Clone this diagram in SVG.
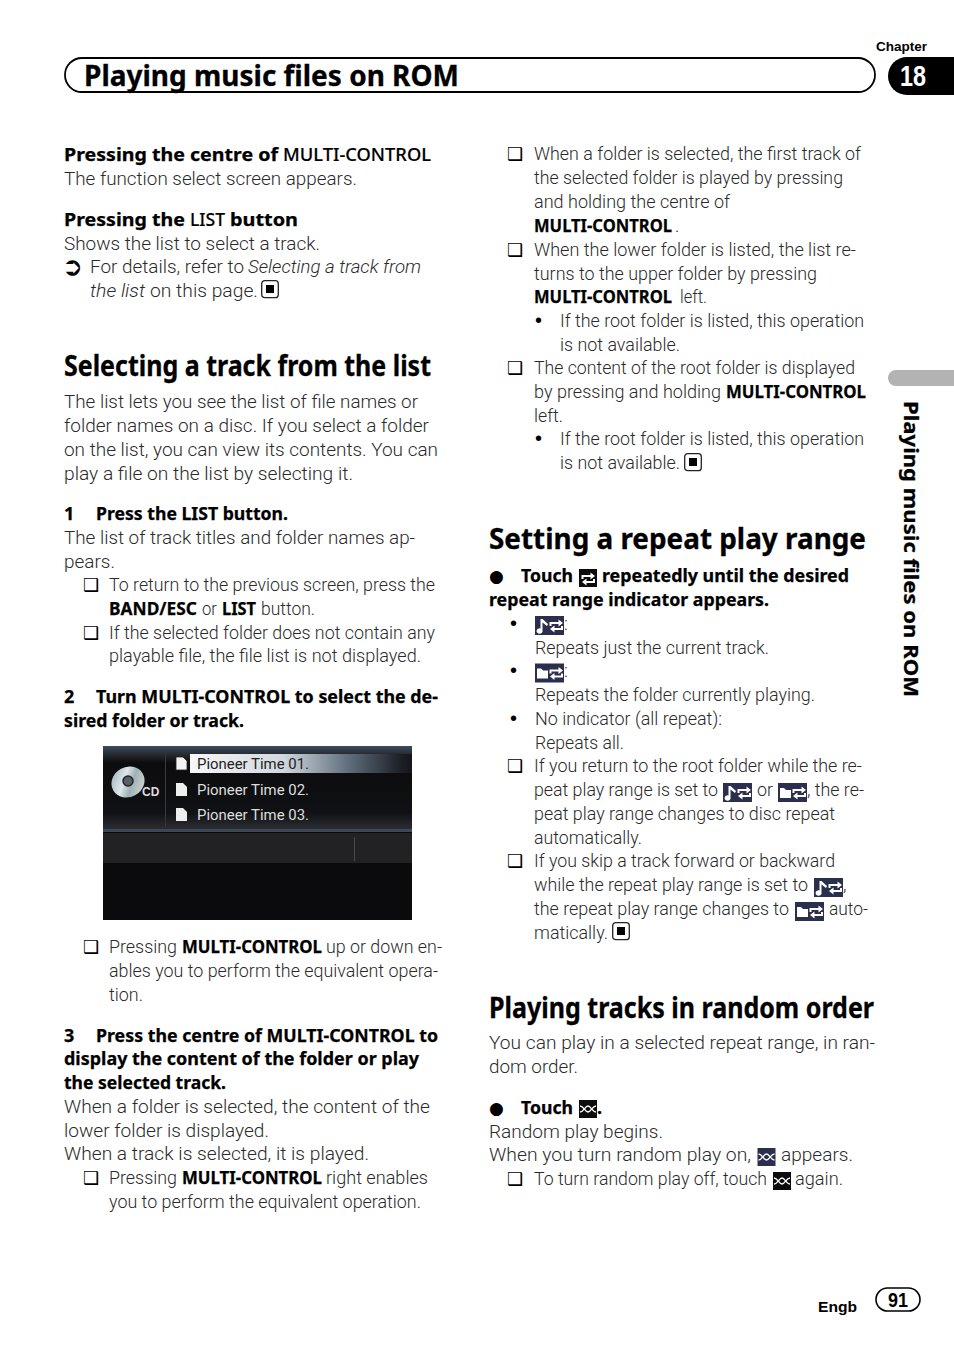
<svg xmlns="http://www.w3.org/2000/svg" width="954" height="1352" viewBox="0 0 954 1352">
<style>
text{font-family:Roboto,"Noto Sans","Liberation Sans",sans-serif;font-size:18px;font-weight:300;fill:#2a2a2a;white-space:pre}
.b{font-family:"Noto Sans","Open Sans",sans-serif;font-weight:700;fill:#000;stroke:#000;stroke-width:.25px}
.m{font-family:"Noto Sans","Open Sans",sans-serif;font-weight:500;fill:#000;stroke:#000;stroke-width:.15px}
.i{font-style:italic}
.h{font-family:"Noto Sans","Open Sans",sans-serif;font-weight:700;font-size:28px;fill:#000;stroke:#000;stroke-width:.3px}
.g{font-family:"DejaVu Sans",sans-serif;font-size:18px;font-weight:400;fill:#000}
.d{font-family:"Liberation Sans",sans-serif;font-size:20px;font-weight:400;fill:#000}
.a{font-family:"Liberation Sans",sans-serif;font-weight:700;fill:#000}
.p{font-family:Roboto,"Liberation Sans",sans-serif;font-size:14px;font-weight:400;fill:#ddd}
</style>
<defs>
<linearGradient id="hl" x1="0" x2="1" y1="0" y2="0"><stop offset="0" stop-color="#f6f7f8"/><stop offset=".42" stop-color="#d2d8de"/><stop offset=".72" stop-color="#5d6b7a"/><stop offset=".95" stop-color="#1c2026"/><stop offset="1" stop-color="#14161a"/></linearGradient>
<linearGradient id="top" x1="0" x2="0" y1="0" y2="1"><stop offset="0" stop-color="#3e4c60"/><stop offset=".5" stop-color="#26292e"/><stop offset="1" stop-color="#0c0c0e"/></linearGradient>
<linearGradient id="low" x1="0" x2="0" y1="0" y2="1"><stop offset="0" stop-color="#0c0c0e"/><stop offset=".75" stop-color="#101114"/><stop offset="1" stop-color="#2a2d33"/></linearGradient>
<linearGradient id="cd" x1="0" x2="1" y1="0" y2="1"><stop offset="0" stop-color="#8fa9b8"/><stop offset=".4" stop-color="#dfe6e8"/><stop offset=".6" stop-color="#9fb0b4"/><stop offset="1" stop-color="#e6e6da"/></linearGradient>
<symbol id="stop" viewBox="0 0 18 19" overflow="visible"><rect x=".7" y=".7" width="16.6" height="17" rx="3" fill="#fff" stroke="#222" stroke-width="1.3"/><rect x="5" y="5" width="8" height="8" fill="#000"/></symbol>
<g id="arrows" fill="none" stroke="#fff" stroke-width="2"><path d="M1.500 7 V4 H10"/><path d="M9.500 0.500 L14 4 L9.500 7.500Z" fill="#fff" stroke="none"/><path d="M13 7 V10 H5"/><path d="M5.500 6.500 L1 10 L5.500 13.500Z" fill="#fff" stroke="none"/></g>
<g id="rn" fill="none" stroke="#fff" stroke-width="1.300"><path d="M1 5 C5 5 6 11 9 11 C12 11 13 5 17 5"/><path d="M1 11 C5 11 6 5 9 5 C12 5 13 11 17 11"/></g>
<symbol id="rep" viewBox="0 0 18 18"><rect width="18" height="18" fill="#0c0c0c"/><use href="#arrows" transform="translate(2 3) scale(1)"/></symbol>
<symbol id="note" viewBox="0 0 29 19"><rect width="29" height="19" fill="#2b2e4d"/><path d="M5.500 3 H7.500 L13 8 L12 10 L7.500 6.500 V14.500 A3 2.700 0 1 1 5.500 12.500Z" fill="#fff"/><use href="#arrows" transform="translate(14 3)"/></symbol>
<symbol id="fold" viewBox="0 0 29 19"><rect width="29" height="19" fill="#2b2e4d"/><path d="M2 5 H6 L8 7 H13 V15 H2Z" fill="#fff"/><use href="#arrows" transform="translate(14 3)"/></symbol>
<symbol id="rk" viewBox="0 0 18 18"><rect width="18" height="18" fill="#0c0c0c"/><use href="#rn" transform="translate(0 1)"/></symbol>
<symbol id="rb" viewBox="0 0 18 18"><rect width="18" height="18" fill="#2b2e4d"/><use href="#rn" transform="translate(0 1)"/></symbol>
<path id="file" d="M0 0 H7 L11 4 V13 H0Z"/>
</defs>

<g id="header">
<rect x="65" y="58" width="810" height="34" rx="17" fill="#fff" stroke="#000" stroke-width="1.800"/>
<text class="h" x="84" y="86" lengthAdjust="spacingAndGlyphs" textLength="375">Playing music files on ROM</text>
<text class="a" x="876" y="51" style="font-size:13px" lengthAdjust="spacingAndGlyphs" textLength="51">Chapter</text>
<path d="M954 57 H907 A19 19 0 0 0 907 95 H954Z" fill="#000"/>
<text class="a" x="900" y="86" style="font-size:29px;fill:#fff" lengthAdjust="spacingAndGlyphs" textLength="26">18</text>
</g>

<g id="column-left">
<text class="b" x="64" y="161" lengthAdjust="spacingAndGlyphs" textLength="214">Pressing the centre of</text><text class="m" x="283" y="161" lengthAdjust="spacingAndGlyphs" textLength="148">MULTI-CONTROL</text>
<text x="64" y="185" lengthAdjust="spacingAndGlyphs" textLength="293">The function select screen appears.</text>
<text class="b" x="64" y="226" lengthAdjust="spacingAndGlyphs" textLength="121">Pressing the</text><text class="m" x="190" y="226" lengthAdjust="spacingAndGlyphs" textLength="35">LIST</text><text class="b" x="230" y="226" lengthAdjust="spacingAndGlyphs" textLength="68">button</text>
<text x="64" y="250" lengthAdjust="spacingAndGlyphs" textLength="256">Shows the list to select a track.</text>
<text class="g" x="62" y="275" style="font-size:25px">➲</text>
<text x="90" y="273" lengthAdjust="spacingAndGlyphs" textLength="154">For details, refer to</text><text class="i" x="248" y="273" lengthAdjust="spacingAndGlyphs" textLength="173">Selecting a track from</text>
<text class="i" x="90" y="297" lengthAdjust="spacingAndGlyphs" textLength="55">the list</text><text x="150" y="297" lengthAdjust="spacingAndGlyphs" textLength="108">on this page.</text>
<use href="#stop" x="261" y="280" width="18" height="19"/>

<text class="h" x="64" y="376" lengthAdjust="spacingAndGlyphs" textLength="367">Selecting a track from the list</text>
<text x="64" y="408" lengthAdjust="spacingAndGlyphs" textLength="354">The list lets you see the list of file names or</text>
<text x="64" y="432" lengthAdjust="spacingAndGlyphs" textLength="365">folder names on a disc. If you select a folder</text>
<text x="64" y="456" lengthAdjust="spacingAndGlyphs" textLength="374">on the list, you can view its contents. You can</text>
<text x="64" y="480" lengthAdjust="spacingAndGlyphs" textLength="289">play a file on the list by selecting it.</text>

<text class="b" x="64" y="520">1</text><text class="b" x="96" y="520" lengthAdjust="spacingAndGlyphs" textLength="192">Press the LIST button.</text>
<text x="64" y="544" lengthAdjust="spacingAndGlyphs" textLength="351">The list of track titles and folder names ap-</text>
<text x="64" y="568" lengthAdjust="spacingAndGlyphs" textLength="51">pears.</text>
<text class="g" x="83" y="591">❑</text><text x="109" y="591" lengthAdjust="spacingAndGlyphs" textLength="326">To return to the previous screen, press the</text>
<text class="b" x="109" y="615" lengthAdjust="spacingAndGlyphs" textLength="88">BAND/ESC</text><text x="202" y="615" lengthAdjust="spacingAndGlyphs" textLength="15">or</text><text class="b" x="222" y="615" lengthAdjust="spacingAndGlyphs" textLength="34">LIST</text><text x="261" y="615" lengthAdjust="spacingAndGlyphs" textLength="54">button.</text>
<text class="g" x="83" y="639">❑</text><text x="109" y="639" lengthAdjust="spacingAndGlyphs" textLength="326">If the selected folder does not contain any</text>
<text x="109" y="662" lengthAdjust="spacingAndGlyphs" textLength="312">playable file, the file list is not displayed.</text>

<text class="b" x="64" y="703">2</text><text class="b" x="96" y="703" lengthAdjust="spacingAndGlyphs" textLength="342">Turn MULTI-CONTROL to select the de-</text>
<text class="b" x="64" y="727" lengthAdjust="spacingAndGlyphs" textLength="180">sired folder or track.</text>

<text class="g" x="83" y="953">❑</text><text x="109" y="953" lengthAdjust="spacingAndGlyphs" textLength="68">Pressing</text><text class="b" x="182" y="953" lengthAdjust="spacingAndGlyphs" textLength="140">MULTI-CONTROL</text><text x="326" y="953" lengthAdjust="spacingAndGlyphs" textLength="116">up or down en-</text>
<text x="109" y="977" lengthAdjust="spacingAndGlyphs" textLength="329">ables you to perform the equivalent opera-</text>
<text x="109" y="1001" lengthAdjust="spacingAndGlyphs" textLength="34">tion.</text>

<text class="b" x="64" y="1042">3</text><text class="b" x="96" y="1042" lengthAdjust="spacingAndGlyphs" textLength="342">Press the centre of MULTI-CONTROL to</text>
<text class="b" x="64" y="1065" lengthAdjust="spacingAndGlyphs" textLength="355">display the content of the folder or play</text>
<text class="b" x="64" y="1089" lengthAdjust="spacingAndGlyphs" textLength="162">the selected track.</text>
<text x="64" y="1113" lengthAdjust="spacingAndGlyphs" textLength="366">When a folder is selected, the content of the</text>
<text x="64" y="1137" lengthAdjust="spacingAndGlyphs" textLength="205">lower folder is displayed.</text>
<text x="64" y="1160" lengthAdjust="spacingAndGlyphs" textLength="305">When a track is selected, it is played.</text>
<text class="g" x="83" y="1184">❑</text><text x="109" y="1184" lengthAdjust="spacingAndGlyphs" textLength="68">Pressing</text><text class="b" x="182" y="1184" lengthAdjust="spacingAndGlyphs" textLength="140">MULTI-CONTROL</text><text x="326" y="1184" lengthAdjust="spacingAndGlyphs" textLength="102">right enables</text>
<text x="109" y="1208" lengthAdjust="spacingAndGlyphs" textLength="312">you to perform the equivalent operation.</text>
</g>

<g id="screenshot">
<rect x="103" y="746" width="309" height="174" fill="#0b0b0d"/>
<rect x="103" y="746" width="309" height="17" fill="url(#top)"/>
<rect x="103" y="763" width="309" height="66" fill="url(#low)"/>
<rect x="190" y="754" width="222" height="19" fill="url(#hl)"/>
<rect x="103" y="829" width="309" height="3" fill="#3f4656"/>
<rect x="103" y="833" width="309" height="30" fill="#222224"/>
<rect x="165" y="753" width="1" height="74" fill="#333a44"/>
<rect x="354" y="837" width="1" height="24" fill="#4a4a4a"/>
<ellipse cx="128" cy="782" rx="17" ry="15" fill="url(#cd)" transform="rotate(-30 128 782)"/>
<circle cx="128" cy="781" r="5" fill="#556068" stroke="#222" stroke-width="1.500"/>
<text class="a" x="142" y="796" style="font-size:12px;fill:#ddd">CD</text>
<use href="#file" x="176" y="757" fill="#f2f2f2" stroke="#222" stroke-width=".8"/>
<use href="#file" x="176" y="783" fill="#eee"/>
<use href="#file" x="176" y="808" fill="#eee"/>
<text class="p" x="197" y="769" style="fill:#222" lengthAdjust="spacingAndGlyphs" textLength="112">Pioneer Time 01.</text>
<text class="p" x="197" y="795" lengthAdjust="spacingAndGlyphs" textLength="112">Pioneer Time 02.</text>
<text class="p" x="197" y="820" lengthAdjust="spacingAndGlyphs" textLength="112">Pioneer Time 03.</text>
</g>

<g id="column-right">
<text class="g" x="507" y="160">❑</text><text x="534" y="160" lengthAdjust="spacingAndGlyphs" textLength="327">When a folder is selected, the first track of</text>
<text x="534" y="184" lengthAdjust="spacingAndGlyphs" textLength="309">the selected folder is played by pressing</text>
<text x="534" y="208" lengthAdjust="spacingAndGlyphs" textLength="196">and holding the centre of</text>
<text class="b" x="534" y="232" lengthAdjust="spacingAndGlyphs" textLength="138">MULTI-CONTROL</text><text x="675" y="232">.</text>
<text class="g" x="507" y="256">❑</text><text x="534" y="256" lengthAdjust="spacingAndGlyphs" textLength="322">When the lower folder is listed, the list re-</text>
<text x="534" y="280" lengthAdjust="spacingAndGlyphs" textLength="283">turns to the upper folder by pressing</text>
<text class="b" x="534" y="303" lengthAdjust="spacingAndGlyphs" textLength="138">MULTI-CONTROL</text><text x="680" y="303" lengthAdjust="spacingAndGlyphs" textLength="27">left.</text>
<text class="d" x="535" y="327">•</text><text x="560" y="327" lengthAdjust="spacingAndGlyphs" textLength="304">If the root folder is listed, this operation</text>
<text x="560" y="351" lengthAdjust="spacingAndGlyphs" textLength="120">is not available.</text>
<text class="g" x="507" y="374">❑</text><text x="534" y="374" lengthAdjust="spacingAndGlyphs" textLength="321">The content of the root folder is displayed</text>
<text x="534" y="398" lengthAdjust="spacingAndGlyphs" textLength="187">by pressing and holding</text><text class="b" x="726" y="398" lengthAdjust="spacingAndGlyphs" textLength="140">MULTI-CONTROL</text>
<text x="534" y="422" lengthAdjust="spacingAndGlyphs" textLength="29">left.</text>
<text class="d" x="535" y="445">•</text><text x="560" y="445" lengthAdjust="spacingAndGlyphs" textLength="304">If the root folder is listed, this operation</text>
<text x="560" y="469" lengthAdjust="spacingAndGlyphs" textLength="120">is not available.</text>
<use href="#stop" x="684" y="453" width="18" height="19"/>

<text class="h" x="489" y="549" lengthAdjust="spacingAndGlyphs" textLength="377">Setting a repeat play range</text>
<text class="g" x="489" y="582" style="font-size:17px">●</text><text class="b" x="521" y="582" lengthAdjust="spacingAndGlyphs" textLength="52">Touch</text>
<use href="#rep" x="579" y="569" width="18" height="18"/>
<text class="b" x="602" y="582" lengthAdjust="spacingAndGlyphs" textLength="247">repeatedly until the desired</text>
<text class="b" x="489" y="606" lengthAdjust="spacingAndGlyphs" textLength="280">repeat range indicator appears.</text>
<text class="d" x="510" y="630">•</text>
<use href="#note" x="535" y="616" width="29" height="19"/><text x="564" y="630">:</text>
<text x="535" y="654" lengthAdjust="spacingAndGlyphs" textLength="234">Repeats just the current track.</text>
<text class="d" x="510" y="677">•</text>
<use href="#fold" x="535" y="663" width="29" height="20"/><text x="564" y="677">:</text>
<text x="535" y="701" lengthAdjust="spacingAndGlyphs" textLength="280">Repeats the folder currently playing.</text>
<text class="d" x="510" y="725">•</text><text x="535" y="725" lengthAdjust="spacingAndGlyphs" textLength="187">No indicator (all repeat):</text>
<text x="535" y="749" lengthAdjust="spacingAndGlyphs" textLength="89">Repeats all.</text>
<text class="g" x="507" y="772">❑</text><text x="534" y="772" lengthAdjust="spacingAndGlyphs" textLength="328">If you return to the root folder while the re-</text>
<text x="534" y="796" lengthAdjust="spacingAndGlyphs" textLength="184">peat play range is set to</text>
<use href="#note" x="723" y="783" width="29" height="19"/><text x="757" y="796" lengthAdjust="spacingAndGlyphs" textLength="16">or</text>
<use href="#fold" x="778" y="783" width="29" height="19"/><text x="807" y="796" lengthAdjust="spacingAndGlyphs" textLength="57">, the re-</text>
<text x="534" y="820" lengthAdjust="spacingAndGlyphs" textLength="301">peat play range changes to disc repeat</text>
<text x="534" y="844" lengthAdjust="spacingAndGlyphs" textLength="108">automatically.</text>
<text class="g" x="507" y="867">❑</text><text x="534" y="867" lengthAdjust="spacingAndGlyphs" textLength="301">If you skip a track forward or backward</text>
<text x="534" y="891" lengthAdjust="spacingAndGlyphs" textLength="274">while the repeat play range is set to</text>
<use href="#note" x="814" y="878" width="29" height="19"/><text x="843" y="891">,</text>
<text x="534" y="915" lengthAdjust="spacingAndGlyphs" textLength="255">the repeat play range changes to</text>
<use href="#fold" x="795" y="902" width="29" height="19"/><text x="829" y="915" lengthAdjust="spacingAndGlyphs" textLength="39">auto-</text>
<text x="534" y="939" lengthAdjust="spacingAndGlyphs" textLength="74">matically.</text>
<use href="#stop" x="612" y="922" width="18" height="19"/>

<text class="h" x="489" y="1018" lengthAdjust="spacingAndGlyphs" textLength="385">Playing tracks in random order</text>
<text x="489" y="1049" lengthAdjust="spacingAndGlyphs" textLength="386">You can play in a selected repeat range, in ran-</text>
<text x="489" y="1073" lengthAdjust="spacingAndGlyphs" textLength="89">dom order.</text>
<text class="g" x="489" y="1114" style="font-size:17px">●</text><text class="b" x="521" y="1114" lengthAdjust="spacingAndGlyphs" textLength="52">Touch</text>
<use href="#rk" x="579" y="1100" width="18" height="18"/><text class="b" x="597" y="1114">.</text>
<text x="489" y="1138" lengthAdjust="spacingAndGlyphs" textLength="174">Random play begins.</text>
<text x="489" y="1161" lengthAdjust="spacingAndGlyphs" textLength="262">When you turn random play on,</text>
<use href="#rb" x="757" y="1148" width="19" height="18"/><text x="781" y="1161" lengthAdjust="spacingAndGlyphs" textLength="72">appears.</text>
<text class="g" x="507" y="1185">❑</text><text x="534" y="1185" lengthAdjust="spacingAndGlyphs" textLength="233">To turn random play off, touch</text>
<use href="#rk" x="773" y="1172" width="18" height="18"/><text x="795" y="1185" lengthAdjust="spacingAndGlyphs" textLength="48">again.</text>
</g>

<g id="sidebar">
<path d="M954 370 H896 A8 8 0 0 0 896 386 H954Z" fill="#b3b3b3"/>
<text class="b" transform="translate(904 401) rotate(90)" style="font-size:19px" lengthAdjust="spacingAndGlyphs" textLength="296">Playing music files on ROM</text>
</g>

<g id="footer">
<text class="a" x="818" y="1312" style="font-size:15px" lengthAdjust="spacingAndGlyphs" textLength="39">Engb</text>
<rect x="876" y="1288" width="44" height="23" rx="11.500" fill="#fff" stroke="#000" stroke-width="1.600"/>
<text class="a" x="888" y="1307" style="font-size:20px" lengthAdjust="spacingAndGlyphs" textLength="20">91</text>
</g>
</svg>
